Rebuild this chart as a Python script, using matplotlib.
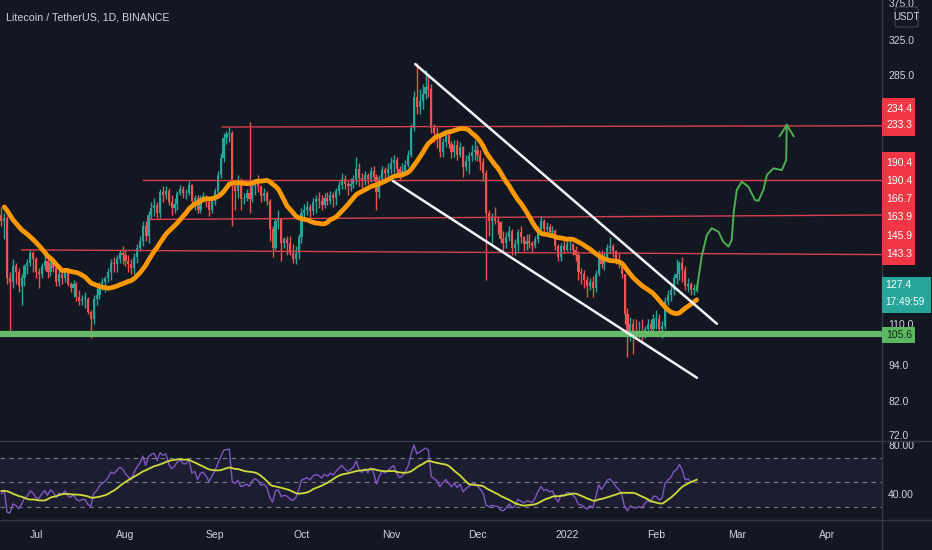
import matplotlib
matplotlib.use("Agg")
import matplotlib.pyplot as plt
import matplotlib.dates as mdates
from matplotlib import font_manager
from matplotlib.lines import Line2D
from matplotlib.patches import Rectangle, FancyBboxPatch
from matplotlib.ticker import NullLocator
import numpy as np
import pandas as pd

# ---- data: LTC/USDT daily candles ----
warmup_close = [180, 187, 194, 176, 168, 172, 163, 166, 176, 171, 169, 166,
                175, 177, 176, 163, 165, 167]  # Jun 1-18, off screen (for the indicators)

close_jun = [163, 165, 131, 129, 137, 134, 127, 131, 137, 139, 144, 141]
high_jun = [172, 168, 166, 134, 141, 139, 136, 133, 138, 141, 146, 145]
low_jun = [160, 152, 128, 105, 126, 128, 124, 118, 127, 133, 137, 134]

close_jul = [134, 133, 137, 140, 134, 139, 136, 129, 133, 131, 134, 128, 126, 128, 122, 120,
             121, 121, 115, 112, 121, 123, 127, 129, 131, 134, 139, 138, 141, 144, 143]
high_jul = [142, 136, 139, 143, 141, 141, 140, 137, 135, 134, 136, 135, 129, 130, 129, 125,
            123, 124, 122, 116, 123, 126, 129, 131, 132, 136, 141, 142, 143, 146, 148]
low_jul = [131, 126, 131, 135, 131, 132, 134, 127, 127, 128, 129, 127, 124, 122, 120, 118,
           118, 117, 114, 104, 110, 118, 121, 125, 124, 129, 130, 134, 134, 139, 138]

close_aug = [140, 138, 136, 142, 147, 151, 160, 154, 167, 171, 173, 168, 182, 180, 183, 175,
             171, 174, 181, 184, 181, 181, 187, 176, 178, 170, 178, 179, 175, 170, 176]
high_aug = [146, 143, 141, 144, 149, 154, 163, 163, 169, 175, 178, 175, 184, 186, 186, 185,
            180, 178, 183, 187, 186, 184, 190, 188, 180, 180, 180, 182, 180, 177, 178]
low_aug = [137, 134, 133, 133, 139, 145, 148, 151, 150, 164, 166, 165, 165, 175, 177, 173,
           167, 168, 170, 180, 178, 177, 180, 173, 170, 168, 168, 175, 172, 166, 168]

close_sep = [183, 194, 207, 224, 227, 228, 186, 183, 188, 177, 178, 181, 177, 186, 189,
             186, 179, 181, 176, 158, 147, 163, 164, 150, 152, 150, 144, 141, 144, 153]
high_sep = [185, 197, 211, 228, 230, 233, 230, 188, 194, 192, 181, 184, 238, 188, 191,
            194, 187, 185, 183, 177, 160, 165, 170, 165, 153, 154, 154, 149, 148, 155]
low_sep = [173, 180, 192, 204, 219, 220, 160, 170, 178, 170, 174, 176, 168, 175, 180,
           182, 175, 176, 173, 151, 142, 146, 158, 140, 147, 143, 143, 139, 138, 141]

close_oct = [168, 170, 172, 169, 175, 177, 176, 173, 178, 176, 180, 178, 183, 187, 191, 188,
             186, 188, 191, 199, 192, 190, 194, 191, 197, 193, 182, 191, 198, 196, 199]
high_oct = [171, 174, 176, 174, 178, 180, 182, 180, 181, 182, 183, 182, 185, 190, 196, 194,
            190, 192, 194, 208, 203, 196, 197, 196, 200, 201, 195, 194, 201, 200, 203]
low_oct = [150, 164, 167, 164, 167, 168, 171, 170, 171, 173, 174, 172, 173, 180, 184, 184,
           180, 183, 185, 188, 186, 185, 187, 188, 189, 190, 170, 178, 189, 190, 192]

close_nov = [203, 206, 199, 195, 197, 202, 210, 232, 262, 252, 258, 265, 272, 270, 232,
             228, 224, 212, 220, 226, 219, 212, 218, 210, 216, 200, 205, 209, 212, 214]
high_nov = [208, 210, 208, 201, 203, 206, 214, 236, 268, 298, 270, 275, 290, 283, 275,
            236, 233, 228, 224, 229, 228, 221, 222, 222, 220, 217, 210, 212, 218, 222]
low_nov = [195, 196, 193, 190, 193, 195, 200, 208, 230, 245, 245, 250, 260, 262, 228,
           220, 215, 208, 208, 216, 215, 207, 208, 206, 208, 193, 197, 195, 205, 206]

close_dec = [210, 204, 196, 168, 163, 165, 163, 162, 152, 150, 153, 157, 147, 149, 156, 153,
             149, 151, 150, 148, 152, 158, 163, 158, 159, 156, 157, 148, 142, 148, 146]
high_dec = [218, 214, 207, 198, 170, 168, 172, 166, 163, 157, 156, 160, 158, 152, 158, 160,
            154, 155, 155, 151, 154, 160, 166, 164, 162, 161, 160, 158, 149, 150, 152]
low_dec = [205, 198, 190, 130, 154, 150, 161, 155, 150, 145, 147, 151, 143, 143, 145, 150,
           145, 146, 147, 144, 147, 150, 156, 156, 155, 154, 154, 146, 140, 140, 144]

close_jan = [149, 149, 146, 143, 134, 133, 130, 127, 129, 126, 133, 143, 138, 142, 147, 148,
             145, 141, 138, 133, 114, 106, 110, 107, 106, 107, 105, 108, 110, 108, 112]
high_jan = [151, 152, 150, 148, 145, 136, 135, 132, 131, 132, 135, 146, 146, 144, 149, 153,
            149, 146, 144, 140, 133, 117, 113, 112, 112, 111, 112, 109, 112, 112, 114]
low_jan = [145, 145, 143, 140, 130, 128, 126, 122, 125, 122, 124, 132, 136, 135, 140, 144,
           142, 138, 136, 131, 110, 97, 103, 98, 104, 104, 103, 104, 106, 106, 107]

close_feb = [112, 108, 109, 120, 123, 125, 131, 133, 139, 135, 127, 128, 125, 126, 127.4]
high_feb = [116, 114, 111, 122, 125, 127, 133, 141, 140, 142, 137, 131, 129, 128, 129]
low_feb = [108, 106, 104, 108, 118, 120, 123, 128, 130, 129, 125, 124, 123, 123, 124]

# drawings: (start, end, start price, end price)
level_lines = [
    ("2021-09-03 12:00", "2022-04-20 05:00", 233.3, 234.4),
    ("2021-08-07 00:00", "2022-04-20 05:00", 190.4, 190.4),
    ("2021-08-09 12:00", "2022-04-20 05:00", 163.9, 166.7),
    ("2021-06-26 00:00", "2022-04-20 05:00", 145.9, 143.3),
]
support_level = 105.6
channel_lines = [
    ("2021-11-09 10:00", "2022-02-22 00:00", 296.7, 110.0),
    ("2021-11-01 17:00", "2022-02-15 02:00", 189.8, 89.5),
]
# projected path, days after the last candle
arrow_days = [0, 1.7, 3.5, 5.2, 7.5, 9.2, 11.0, 12.1, 12.9, 13.9, 15.6, 17.9, 20.2, 21.4,
              23.1, 24.3, 26.6, 29.5, 31.0, 31.2]
arrow_price = [125.2, 142.2, 154.4, 158.5, 156.4, 150.5, 147.7, 151.5, 169.9, 183.4, 189.3,
               185.7, 176.5, 176.0, 183.4, 194.2, 199.2, 197.9, 205.6, 235.0]
arrow_wing_days = [28.7, 33.6]
arrow_wing_price = 225.3

price_ticks = [72, 82, 94, 110, 285, 325, 375]
rsi_ticks = [40, 80]
month_ticks = ["2021-07-01", "2021-08-01", "2021-09-01", "2021-10-01", "2021-11-01",
               "2021-12-01", "2022-01-01", "2022-02-01", "2022-03-01", "2022-04-01"]
month_labels = ["Jul", "Aug", "Sep", "Oct", "Nov", "Dec", "2022", "Feb", "Mar", "Apr"]
title = "Litecoin / TetherUS, 1D, BINANCE"
countdown = "17:49:59"

# ---- style ----
BG = "#131722"
UP = "#26a69a"
DOWN = "#ef5350"
TXT = "#d1d4dc"
GRIDC = "#363a45"
LEVEL = "#d8404c"

installed = {f.name for f in font_manager.fontManager.ttflist}
if "Liberation Sans Narrow" in installed:
    FONT, SC = "Liberation Sans Narrow", 1.0
else:
    FONT, SC = "Liberation Sans", 0.93
plt.rcParams["font.family"] = [FONT, "DejaVu Sans"]

W, H = 932, 550
def fx(px):
    return px / W
def fy(py):
    return 1 - py / H

close = (close_jun + close_jul + close_aug + close_sep + close_oct + close_nov
         + close_dec + close_jan + close_feb)
high = high_jun + high_jul + high_aug + high_sep + high_oct + high_nov + high_dec + high_jan + high_feb
low = low_jun + low_jul + low_aug + low_sep + low_oct + low_nov + low_dec + low_jan + low_feb

dates = pd.date_range("2021-06-19", periods=len(close), freq="D")
all_close = pd.Series(warmup_close + close,
                      index=pd.date_range("2021-06-01", periods=len(warmup_close) + len(close), freq="D"))

closes = np.array(close, dtype=float)
opens = np.array([warmup_close[-1]] + close[:-1], dtype=float)
highs = np.maximum(np.array(high, dtype=float), np.maximum(opens, closes))
lows = np.minimum(np.array(low, dtype=float), np.minimum(opens, closes))
xd = mdates.date2num(dates)

# indicators
ma = all_close.rolling(20).mean()
delta = all_close.diff().fillna(0)
gain = delta.clip(lower=0).ewm(alpha=1 / 14, adjust=False).mean()
loss = (-delta.clip(upper=0)).ewm(alpha=1 / 14, adjust=False).mean()
rsi = 100 - 100 / (1 + gain / loss)
rsi_ma = rsi.rolling(14).mean()

fig = plt.figure(figsize=(9.32, 5.5), dpi=100)
fig.patch.set_facecolor(BG)

ax = fig.add_axes([0, fy(441), fx(882), (441 - 0) / H])
rax = fig.add_axes([0, fy(520), fx(882), (520 - 441) / H], sharex=ax)
for a in (ax, rax):
    a.set_facecolor(BG)
    for s in a.spines.values():
        s.set_visible(False)

x_left = mdates.date2num(pd.Timestamp("2021-06-18 12:30"))
x_right = mdates.date2num(pd.Timestamp("2022-04-20 05:00"))
ax.set_xlim(x_left, x_right)
ax.set_yscale("log")
ax.set_ylim(70.3, 379)

# candles
up = closes >= opens
cols = np.where(up, UP, DOWN)
ax.vlines(xd, lows, highs, colors=cols, lw=1.0, zorder=2)
body_lo = np.minimum(opens, closes)
body_h = np.maximum(np.abs(closes - opens), 0.35)
ax.bar(xd, body_h, bottom=body_lo, width=0.74, color=cols, linewidth=0, zorder=3)

# moving average
vis = ma.index >= dates[0]
ax.plot(mdates.date2num(ma.index[vis]), ma.values[vis], color="#ff9800", lw=3.4,
        solid_capstyle="round", solid_joinstyle="round", zorder=5)

# horizontal levels
for d0, d1, p0, p1 in level_lines:
    ax.plot(mdates.date2num([pd.Timestamp(d0), pd.Timestamp(d1)]), [p0, p1],
            color=LEVEL, lw=1.0, zorder=4)
ax.axhline(support_level, color="#66bb6a", lw=4.5, zorder=4)

# channel
for d0, d1, p0, p1 in channel_lines:
    ax.plot(mdates.date2num([pd.Timestamp(d0), pd.Timestamp(d1)]), [p0, p1],
            color="#f0f3fa", lw=1.8, zorder=6, solid_capstyle="round")

# projected path
base = xd[-1]
ax.plot(base + np.array(arrow_days), arrow_price, color="#4caf50", lw=1.4,
        solid_joinstyle="round", zorder=6)
tip_x, tip_p = base + arrow_days[-1], arrow_price[-1]
for wd in arrow_wing_days:
    ax.plot([base + wd, tip_x], [arrow_wing_price, tip_p], color="#4caf50", lw=1.4, zorder=6)

# price scale
ax.yaxis.tick_right()
ax.yaxis.set_minor_locator(NullLocator())
ax.set_yticks(price_ticks)
ax.set_yticklabels([f"{t:.1f}" for t in price_ticks])
ax.tick_params(axis="y", length=0, pad=4.5, labelsize=8 * SC, labelcolor=TXT)
ax.tick_params(axis="x", length=0, labelbottom=False)

# RSI pane
rax.set_ylim(18.98, 83.47)
rax.axhspan(30, 70, color="#7e57c2", alpha=0.10, lw=0, zorder=1)
for lvl in (70, 50, 30):
    rax.axhline(lvl, color="#787b86", lw=0.8, ls=(0, (4, 4)), zorder=2)
rvis = rsi.index >= dates[0]
rax.plot(mdates.date2num(rsi.index[rvis]), rsi.values[rvis], color="#7e57c2", lw=1.0, zorder=3)
rax.plot(mdates.date2num(rsi_ma.index[rvis]), rsi_ma.values[rvis], color="#cddc39", lw=1.3, zorder=4)
rax.yaxis.tick_right()
rax.set_yticks(rsi_ticks)
rax.set_yticklabels([f"{t:.2f}" for t in rsi_ticks])
rax.tick_params(axis="y", length=0, pad=4.5, labelsize=8 * SC, labelcolor=TXT)
rax.set_xticks(mdates.date2num(pd.to_datetime(month_ticks)))
rax.set_xticklabels(month_labels)
rax.tick_params(axis="x", length=0, pad=7, labelsize=8 * SC, labelcolor=TXT)
ax.set_xlim(x_left, x_right)

# pane borders
for yy in (441, 520):
    fig.add_artist(Line2D([0, 1], [fy(yy), fy(yy)], color=GRIDC, lw=1.0))
fig.add_artist(Line2D([fx(882), fx(882)], [0, 1], color=GRIDC, lw=1.0))

# title
fig.text(fx(6), fy(18), title, ha="left", va="center", fontsize=8.2 * SC, color=TXT)

# USDT badge
fig.add_artist(FancyBboxPatch((fx(895), fy(27)), fx(23), 20 / H,
                              boxstyle="round,pad=0,rounding_size=0.004",
                              transform=fig.transFigure, fc=BG, ec="#434651", lw=0.8, zorder=5))
fig.text(fx(906.5), fy(17), "USDT", ha="center", va="center", fontsize=7.6 * SC, color=TXT, zorder=6)

# drawing price labels (stacked as on the price scale)
end_labels = sorted([p for ln in level_lines for p in (ln[2], ln[3])], reverse=True)
label_rows = [109, 125, 163, 181, 199, 217, 236, 254]
for top, bot in ((98, 136), (152, 265)):
    fig.add_artist(Rectangle((fx(882), fy(bot)), fx(33), (bot - top) / H,
                             transform=fig.transFigure, fc="#f23645", ec="none", zorder=5))
for row, p in zip(label_rows, end_labels):
    fig.text(fx(886), fy(row), f"{p:.1f}", ha="left", va="center",
             fontsize=8 * SC, color="white", zorder=6)

# last price label
fig.add_artist(Rectangle((fx(882), fy(313)), fx(49), 36 / H,
                         transform=fig.transFigure, fc=UP, ec="none", zorder=5))
fig.text(fx(885), fy(285), f"{closes[-1]:.1f}", ha="left", va="center",
         fontsize=8 * SC, color="white", zorder=6)
fig.text(fx(885), fy(302), countdown, ha="left", va="center",
         fontsize=7.8 * SC, color="white", zorder=6)

# support label
fig.add_artist(Rectangle((fx(882), fy(343)), fx(33), 16 / H,
                         transform=fig.transFigure, fc="#5cb860", ec="none", zorder=5))
fig.text(fx(886), fy(335), f"{support_level:.1f}", ha="left", va="center",
         fontsize=8 * SC, color="#0d2a12", zorder=6)

fig.savefig("out.png", dpi=100, facecolor=BG)
